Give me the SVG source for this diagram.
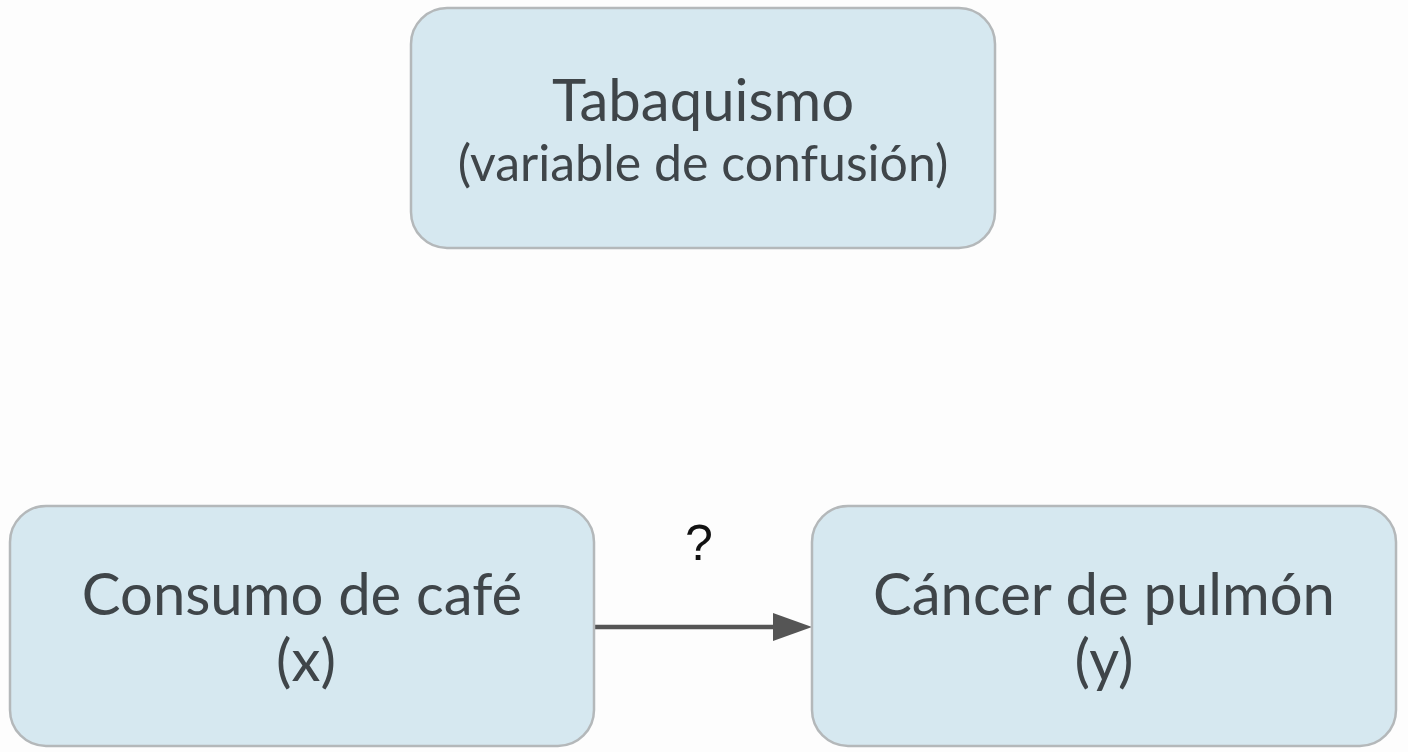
<svg xmlns="http://www.w3.org/2000/svg" width="1408" height="752" viewBox="0 0 1408 752">
<style>
.box{fill:#d6e8f0;stroke:#b4b8ba;stroke-width:2.5}
.t{font-family:Lato,"Liberation Sans",sans-serif;fill:#3f4549;text-anchor:middle}
.big{font-size:58px}
.mid{font-size:50px}
.q{font-family:"Liberation Sans",Arial,sans-serif;font-size:50px;fill:#111;text-anchor:middle}
</style>
<rect width="1408" height="752" fill="#fdfdfd"/>
<g id="connectors">
<line x1="595" y1="627" x2="774" y2="627" stroke="#555" stroke-width="4.5"/>
<path d="M773,613 L812,627 L773,641 Z" fill="#555"/>
<text class="q" x="699" y="560">?</text>
</g>
<g id="tabaquismo">
<rect class="box" x="411" y="8" width="584" height="240" rx="36"/>
<text class="t big" x="703" y="121">Tabaquismo</text>
<text class="t mid" x="703" y="181">(variable de confusión)</text>
</g>
<g id="cafe">
<rect class="box" x="10" y="506" width="584" height="240" rx="36"/>
<text class="t big" x="302" y="615">Consumo de café</text>
<text class="t big" x="306" y="681">(x)</text>
</g>
<g id="cancer">
<rect class="box" x="812" y="506" width="584" height="240" rx="36"/>
<text class="t big" x="1104" y="615">Cáncer de pulmón</text>
<text class="t big" x="1104" y="681">(y)</text>
</g>
</svg>
